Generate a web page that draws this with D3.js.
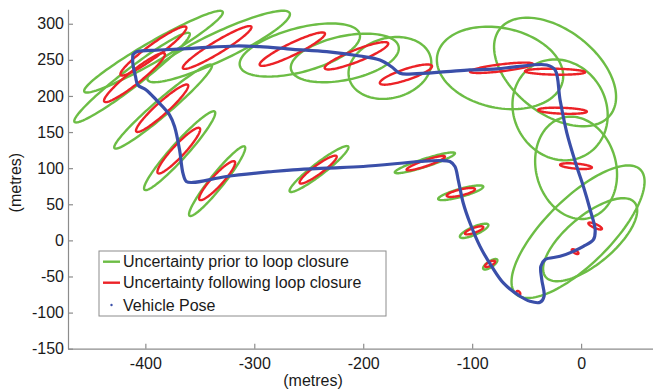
<!DOCTYPE html>
<html>
<head>
<meta charset="utf-8">
<script src="https://cdn.jsdelivr.net/npm/d3@7"></script>
<style>
  html, body { margin: 0; padding: 0; background: #fff; }
  svg { display: block; font-family: "Liberation Sans", Arial, sans-serif; }
</style>
</head>
<body>
<svg id="chart" width="653" height="390"></svg>
<script>
// Vehicle trajectory (metres), one loop
const poseX = [-411.5,-408.1,-387,-356.6,-316.2,-295,-264.7,-233.5,-203.1,-184.7,-174,-166.4,-154.4,-123.4,-102,-77.5,-59.1,-31.5,-23.9,-19.3,-13.1,-4,2.1,8.3,12.9,11.3,2.1,-7.1,-19.3,-33.1,-37,-36.1,-34,-37.7,-46.9,-56.1,-71.4,-82.1,-92.8,-102,-108.2,-112.8,-115.8,-120.4,-129.6,-148,-200.1,-233.7,-264.4,-282.8,-325.6,-356.3,-362.4,-365.5,-368.6,-373.2,-377.8,-390,-399.2,-406.9,-409,-411.5,-411.5];
const poseY = [256.7,261.3,263.6,266,269.2,268.2,264.6,261.3,255.3,249.8,240.5,231.4,230.5,233.6,236,237.4,240.6,242.9,236,194.5,148.9,102.3,74.6,42.4,14.8,1,-8.3,-15.2,-22.1,-26.7,-36,-54.3,-77.4,-85.7,-84.4,-77.4,-58.9,-36,-8.3,24,51.7,83.9,102.3,109.2,110.6,109.2,102.3,100.1,97.7,95.4,88.5,80.2,81.6,93.2,125.4,157.6,173.8,194.5,208.3,215.2,226.7,245.3,256.7];

// Uncertainty ellipses before loop closure: centre (m) and conjugate semi-axes (m)
const priorCx = [-392.5,-412.2,-383.7,-368.5,-334.1,-240.6,-83.4,-98.2,-110.5,-143.4,-332.7,-258.2,-216.9,-175.5,-74.4,-23.9,-19.3,-4.6,-2.8,8.3];
const priorCy = [261.3,225.4,185.3,124.2,82.0,98.8,-33.1,13.2,65.9,107.4,268.5,263.6,252.6,238.8,238.8,233.2,180.7,100.5,12.0,0.9];
const priorUx = [63.5,52.8,44.6,32.2,25.3,26.8,6.4,13.0,20.7,27.6,65.2,55.0,49.4,37.3,57.5,50.7,23.9,12.4,57.2,40.8];
const priorUy = [55.3,61.3,57.6,54.1,47.9,31.1,6.4,8.5,8.7,13.4,46.3,22.1,15.8,15.1,-18.4,-59.6,-62.2,-69.4,86.0,51.6];
const priorVx = [4.6,5.1,4.8,5.5,5.0,3.4,1.5,1.5,1.0,1.1,5.5,5.2,4.2,7.2,-7.6,-23.8,-36.6,-35.5,21.4,14.2];
const priorVy = [-12.0,-9.9,-8.4,-7.4,-6.0,-6.6,-3.5,-5.1,-5.3,-5.3,-17.5,-29.4,-29.7,-40.1,-54.1,-45.8,-31.8,-14.4,-32.2,-25.4];

// Uncertainty ellipses after loop closure
const postCx = [-392.6,-410.0,-384.6,-369.3,-334.1,-241.4,-334.1,-265.1,-206.2,-160.8,-73.1,-23.9,-17.1,-4.7,12.9,-5.5,-57.6,-83.6,-98.2,-110.4,-142.6];
const postCy = [262.3,225.5,183.0,124.3,82.7,98.0,267.1,264.8,255.6,229.6,239.0,233.6,179.5,102.8,19.9,-15.6,-72.8,-32.5,13.9,66.4,106.9];
const postUx = [30.1,27.7,23.7,19.2,16.1,16.9,31.4,29.9,29.1,23.9,28.9,27.6,22.4,14.6,6.2,3.0,1.5,4.6,8.4,13.0,17.6];
const postUy = [33.2,33.3,32.3,31.1,26.5,18.7,28.8,21.9,17.3,12.0,5.3,-0.7,-1.2,-1.9,-4.1,-2.8,-2.3,3.5,4.6,4.6,9.2];
const postVx = [3.5,3.7,3.7,4.0,3.7,2.4,2.9,2.4,2.0,1.6,0.4,0,0,0,-0.75,-0.7,-1.0,0.8,0.8,0.6,0.9];
const postVy = [-7.2,-7.0,-6.2,-5.6,-5.1,-5.0,-7.1,-7.5,-7.7,-7.2,-4.8,-4.1,-4.1,-3.5,-2.5,-1.8,-1.5,-2.5,-3.2,-4.1,-3.9];

const xTicks = [-400, -300, -200, -100, 0];
const yTicks = [-150, -100, -50, 0, 50, 100, 150, 200, 250, 300];
const legendLabels = ["Uncertainty prior to loop closure", "Uncertainty following loop closure", "Vehicle Pose"];

const GREEN = "#6cbd45", RED = "#ec2227", BLUE = "#3a4fa9", AXIS = "#8c8c8c";

const svg = d3.select("#chart");
const x = d3.scaleLinear().domain([-471, 66]).range([68, 653]);
const y = d3.scaleLinear().domain([-150, 320]).range([348.7, 9.3]);

function ellipsePoints(cx, cy, ux, uy, vx, vy) {
  const pts = [];
  for (let i = 0; i < 120; i++) {
    const t = i / 120 * 2 * Math.PI;
    pts.push([cx + ux * Math.cos(t) + vx * Math.sin(t), cy + uy * Math.cos(t) + vy * Math.sin(t)]);
  }
  return pts;
}

const closed = d3.line().x(d => x(d[0])).y(d => y(d[1])).curve(d3.curveLinearClosed);
const track = d3.line().x(d => x(d[0])).y(d => y(d[1])).curve(d3.curveCatmullRom.alpha(0.5));

const plot = svg.append("g");

plot.selectAll("path.prior").data(priorCx.map((c, i) => ellipsePoints(c, priorCy[i], priorUx[i], priorUy[i], priorVx[i], priorVy[i])))
  .join("path").attr("class", "prior").attr("d", closed)
  .attr("fill", "none").attr("stroke", GREEN).attr("stroke-width", 2.4);

plot.selectAll("path.post").data(postCx.map((c, i) => ellipsePoints(c, postCy[i], postUx[i], postUy[i], postVx[i], postVy[i])))
  .join("path").attr("class", "post").attr("d", closed)
  .attr("fill", "none").attr("stroke", RED).attr("stroke-width", 2.4);

plot.append("path")
  .datum(poseX.map((v, i) => [v, poseY[i]]))
  .attr("d", track)
  .attr("fill", "none").attr("stroke", BLUE).attr("stroke-width", 3.2)
  .attr("stroke-linejoin", "round").attr("stroke-linecap", "round");

// Axes
const plain = d => String(d);
const xAxis = svg.append("g").attr("transform", `translate(0,${y(-150)})`)
  .call(d3.axisBottom(x).tickValues(xTicks).tickFormat(plain).tickSizeInner(-5).tickSizeOuter(0).tickPadding(9));
const yAxis = svg.append("g").attr("transform", `translate(${x(-471)},0)`)
  .call(d3.axisLeft(y).tickValues(yTicks).tickFormat(plain).tickSizeInner(-5).tickSizeOuter(0).tickPadding(4));

[xAxis, yAxis].forEach(g => {
  g.select(".domain").attr("stroke", AXIS).attr("stroke-width", 1.2);
  g.selectAll(".tick line").attr("stroke", AXIS).attr("stroke-width", 1.2);
  g.selectAll(".tick text").attr("fill", "#1a1a1a").style("font-size", "16px")
    .style("font-family", "'Liberation Sans', Arial, sans-serif");
});

svg.append("text").attr("x", 313).attr("y", 386).attr("text-anchor", "middle")
  .attr("fill", "#1a1a1a").style("font-size", "16px").text("(metres)");
svg.append("text").attr("transform", `translate(21,${y(80)}) rotate(-90)`).attr("text-anchor", "middle")
  .attr("fill", "#1a1a1a").style("font-size", "16px").text("(metres)");

// Legend
const lg = svg.append("g").attr("transform", "translate(99,251)");
lg.append("rect").attr("width", 287).attr("height", 65)
  .attr("fill", "#fff").attr("stroke", "#8c8c8c").attr("stroke-width", 1);
const rows = [10.7, 31.7, 54];
lg.append("line").attr("x1", 4).attr("x2", 21).attr("y1", rows[0]).attr("y2", rows[0]).attr("stroke", GREEN).attr("stroke-width", 2.4);
lg.append("line").attr("x1", 4).attr("x2", 21).attr("y1", rows[1]).attr("y2", rows[1]).attr("stroke", RED).attr("stroke-width", 2.4);
lg.append("circle").attr("cx", 12.5).attr("cy", rows[2]).attr("r", 1.2).attr("fill", BLUE);
lg.selectAll("text.lab").data(legendLabels).join("text").attr("class", "lab")
  .attr("x", 24).attr("y", (d, i) => rows[i] + 5.5)
  .attr("fill", "#1a1a1a").style("font-size", "16px").text(d => d);
</script>
</body>
</html>
